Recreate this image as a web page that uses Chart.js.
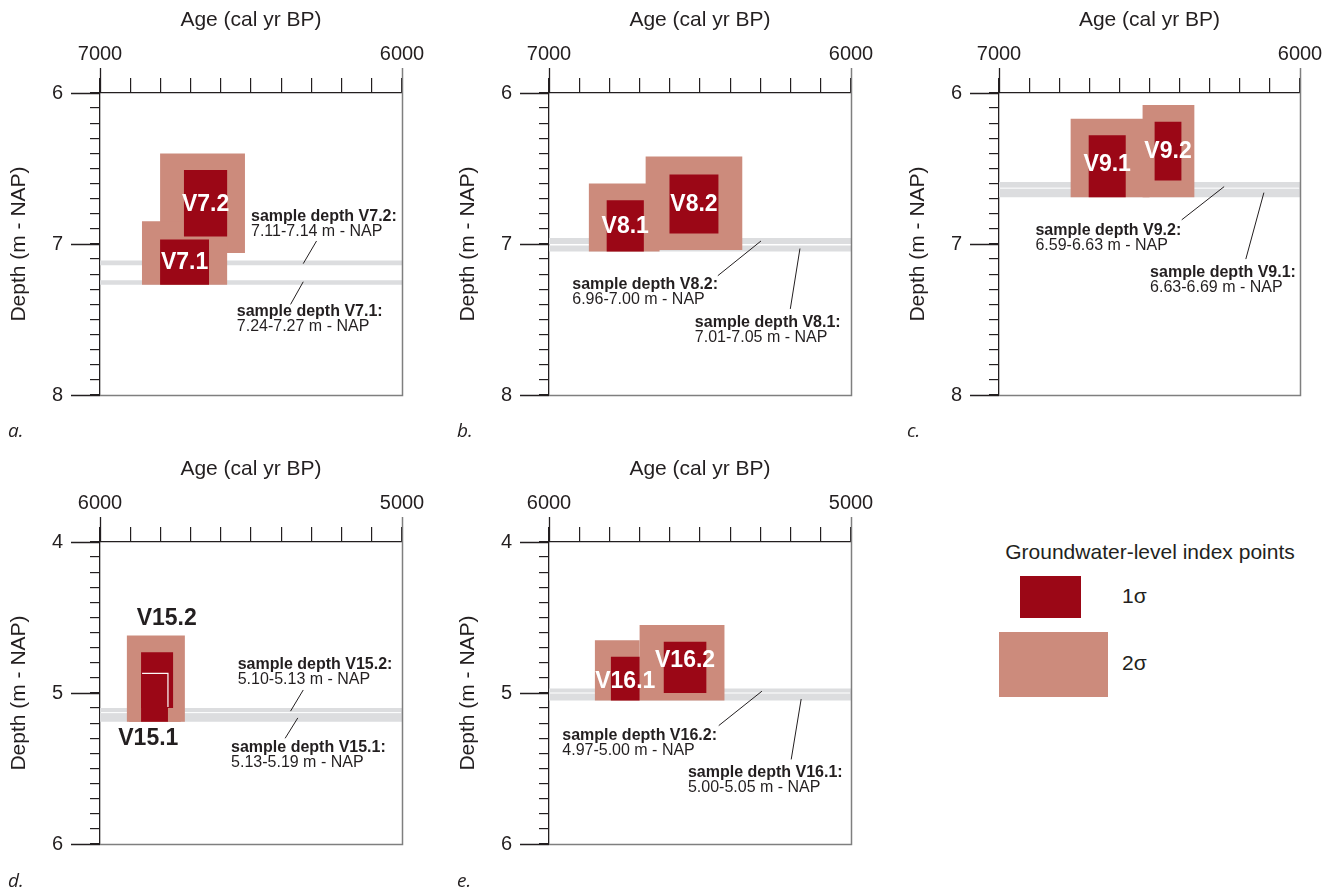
<!DOCTYPE html>
<html>
<head>
<meta charset="utf-8">
<title>Groundwater-level index points</title>
<script src="https://cdn.jsdelivr.net/npm/chart.js@4.4.1/dist/chart.umd.min.js"></script>
<style>
  html, body { margin: 0; padding: 0; background: #fff; }
  body { position: relative; width: 1338px; height: 892px; overflow: hidden;
         font-family: "Liberation Sans", Arial, sans-serif; color: #231f20; }
  .panel { position: absolute; }
  .letter { position: absolute; font-family: "Open Sans", sans-serif; font-style: italic;
            font-size: 19px; line-height: 20px; }
  #legend-title { position: absolute; left: 960px; width: 380px; top: 539px; text-align: center;
                  font-size: 21px; line-height: 26px; }
  .swatch { position: absolute; }
  .key { position: absolute; left: 1122px; font-size: 21px; line-height: 26px; }
</style>
</head>
<body>

<div class="panel" style="left:0px;top:0px"><canvas id="panel0" width="440" height="450"></canvas></div>
<div class="panel" style="left:449px;top:0px"><canvas id="panel1" width="440" height="450"></canvas></div>
<div class="panel" style="left:899px;top:0px"><canvas id="panel2" width="439" height="450"></canvas></div>
<div class="panel" style="left:0px;top:449px"><canvas id="panel3" width="440" height="450"></canvas></div>
<div class="panel" style="left:449px;top:449px"><canvas id="panel4" width="440" height="450"></canvas></div>

<div class="letter" style="left:8px;top:420px">a.</div>
<div class="letter" style="left:457px;top:420px">b.</div>
<div class="letter" style="left:907px;top:420px">c.</div>
<div class="letter" style="left:8px;top:870px">d.</div>
<div class="letter" style="left:457px;top:870px">e.</div>

<div id="legend-title">Groundwater-level index points</div>
<div class="swatch" style="left:1020px;top:576px;width:61px;height:42px;background:#9b0716"></div>
<div class="swatch" style="left:999px;top:632px;width:109px;height:65px;background:#cc8b7c"></div>
<div class="key" style="top:583px">1σ</div>
<div class="key" style="top:650px">2σ</div>

<script>
// --- 1. Data ---
const samples     = ['V7.1', 'V7.2', 'V8.1', 'V8.2', 'V9.1', 'V9.2', 'V15.1', 'V15.2', 'V16.1', 'V16.2'];
const samplePanel = [0, 0, 1, 1, 2, 2, 3, 3, 4, 4];

// calibrated age ranges (cal yr BP), older end first
const age1Sigma = [[6801, 6639], [6722, 6579], [6809, 6686], [6601, 6439], [6702, 6579],
                   [6483, 6394], [5864, 5775], [5864, 5758], [5795, 5700], [5620, 5479]];
const age2Sigma = [[6861, 6579], [6801, 6520], [6868, 6634], [6680, 6360], [6762, 6500],
                   [6523, 6351], [5904, 5732], [5911, 5719], [5848, 5700], [5700, 5419]];

// depth ranges (m - NAP), top first
const depth1Sigma = [[6.97, 7.27], [6.51, 6.95], [6.71, 7.05], [6.54, 6.93], [6.28, 6.69],
                     [6.19, 6.58], [4.87, 5.19], [4.73, 5.10], [4.76, 5.05], [4.66, 5.00]];
const depth2Sigma = [[6.85, 7.27], [6.40, 7.06], [6.60, 7.05], [6.42, 7.04], [6.17, 6.69],
                     [6.08, 6.69], [4.70, 5.19], [4.62, 5.19], [4.65, 5.05], [4.55, 5.05]];
const sampleDepth = [[7.24, 7.27], [7.11, 7.14], [7.01, 7.05], [6.96, 7.00], [6.63, 6.69],
                     [6.59, 6.63], [5.13, 5.19], [5.10, 5.13], [5.00, 5.05], [4.97, 5.00]];

// axis ranges per panel
const ageOld   = [7000, 7000, 7000, 6000, 6000];
const ageYoung = [6000, 6000, 6000, 5000, 5000];
const depthTop = [6, 6, 6, 4, 4];
const depthBot = [8, 8, 8, 6, 6];

// --- 2. Annotation layout (age, depth) ---
const noteLayout = {
  0: { at: [6547, 7.45], lead: [[6327, 7.25], [6369, 7.40]] },
  1: { at: [6500, 6.82], lead: [[6283, 6.98], [6327, 7.13]] },
  2: { at: [6517, 7.52], lead: [[6201, 7.43], [6169, 7.03]] },
  3: { at: [6923, 7.27], lead: [[6441, 7.21], [6298, 6.98]] },
  4: { at: [6498, 7.19], lead: [[6180, 7.10], [6120, 6.66]] },
  5: { at: [6879, 6.91], lead: [[6393, 6.84], [6252, 6.62]] },
  6: { at: [5566, 5.36], lead: [[5345, 5.165], [5387, 5.30]] },
  7: { at: [5544, 4.81], lead: [[5327, 4.98], [5369, 5.12]] },
  8: { at: [5540, 5.53], lead: [[5198, 5.44], [5165, 5.04]] },
  9: { at: [5956, 5.28], lead: [[5438, 5.216], [5295, 4.988]] }
};
// sample names written beside the box instead of inside it
const labelOutside = { 6: [5840, 5.30], 7: [5779, 4.51] };
// small vertical shifts (m) of names inside boxes
const labelNudge = { 4: -0.02, 8: 0.015, 9: -0.05 };

const INK = '#231f20';
const FRAME = '#7f7f7f';
const BAND = '#dcdddf';
const ONE_SIGMA = '#9b0716';
const TWO_SIGMA = '#cc8b7c';
const FONT = '"Liberation Sans", Arial, sans-serif';

Chart.defaults.font.family = FONT;
Chart.defaults.color = INK;

// rectangle as a closed line, filled with fill: 'shape'
function rectPoints(ages, depths) {
  return [
    { x: ages[0], y: depths[1] }, { x: ages[0], y: depths[0] },
    { x: ages[1], y: depths[0] }, { x: ages[1], y: depths[1] },
    { x: ages[0], y: depths[1] }
  ];
}

function shape(points, color, order) {
  return {
    data: points, fill: 'shape', backgroundColor: color,
    borderColor: 'rgba(0,0,0,0)', borderWidth: 1,
    pointRadius: 0, tension: 0, order: order
  };
}

// --- 3. Decorations drawn through the chart scales ---
function makeDecor(p, idx) {
  return {
    id: 'decor' + p,
    afterDatasetDraw(chart, args) {
      if (args.index !== 0) return; // band 0 is the last band painted
      const { ctx, chartArea: a } = chart;
      const ys = chart.scales.y;
      ctx.save();
      ctx.strokeStyle = '#fff';
      ctx.lineWidth = 1;
      idx.forEach(i => idx.forEach(j => {
        if (i !== j && Math.abs(sampleDepth[i][1] - sampleDepth[j][0]) < 1e-9) {
          const y = ys.getPixelForValue(sampleDepth[i][1]);
          ctx.beginPath();
          ctx.moveTo(a.left + 1, y);
          ctx.lineTo(a.right - 1, y);
          ctx.stroke();
        }
      }));
      ctx.restore();
    },
    afterDatasetsDraw(chart) {
      const { ctx } = chart;
      const xs = chart.scales.x, ys = chart.scales.y;
      const box = (ages, depths) => {
        const x0 = xs.getPixelForValue(ages[0]), x1 = xs.getPixelForValue(ages[1]);
        const y0 = ys.getPixelForValue(depths[0]), y1 = ys.getPixelForValue(depths[1]);
        return { l: Math.min(x0, x1), r: Math.max(x0, x1), t: Math.min(y0, y1), b: Math.max(y0, y1) };
      };
      ctx.save();

      // white seam where one 1σ box lies over another
      idx.forEach((i, k) => idx.slice(k + 1).forEach(j => {
        const top = box(age1Sigma[i], depth1Sigma[i]);
        const under = box(age1Sigma[j], depth1Sigma[j]);
        if (top.l < under.r && under.l < top.r && top.t < under.b && under.t < top.b) {
          ctx.save();
          ctx.beginPath();
          ctx.rect(under.l + 1, under.t + 1, under.r - under.l - 2, under.b - under.t - 2);
          ctx.clip();
          ctx.strokeStyle = '#fff';
          ctx.lineWidth = 1.2;
          ctx.strokeRect(top.l, top.t, top.r - top.l, top.b - top.t);
          ctx.restore();
        }
      }));

      // sample names
      ctx.font = 'bold 23px ' + FONT;
      ctx.textAlign = 'center';
      ctx.textBaseline = 'middle';
      idx.forEach(i => {
        if (labelOutside[i]) {
          ctx.fillStyle = INK;
          ctx.fillText(samples[i], xs.getPixelForValue(labelOutside[i][0]), ys.getPixelForValue(labelOutside[i][1]));
        } else {
          const mid = (depth1Sigma[i][0] + depth1Sigma[i][1]) / 2 + (labelNudge[i] || 0);
          const b = box(age1Sigma[i], depth1Sigma[i]);
          ctx.fillStyle = '#fff';
          ctx.fillText(samples[i], (b.l + b.r) / 2, ys.getPixelForValue(mid) + 1);
        }
      });

      // sample depth notes
      ctx.textAlign = 'left';
      ctx.fillStyle = INK;
      idx.forEach(i => {
        const n = noteLayout[i];
        const x = xs.getPixelForValue(n.at[0]), y = ys.getPixelForValue(n.at[1]);
        ctx.font = 'bold 16px ' + FONT;
        ctx.fillText('sample depth ' + samples[i] + ':', x, y);
        ctx.font = '16px ' + FONT;
        ctx.fillText(sampleDepth[i][0].toFixed(2) + '-' + sampleDepth[i][1].toFixed(2) + ' m - NAP', x, y + 15);
      });
      ctx.restore();
    },
    afterDraw(chart) {
      const { ctx, chartArea: a } = chart;
      const xs = chart.scales.x, ys = chart.scales.y;
      ctx.save();
      ctx.lineWidth = 1.3;
      // long ticks at the labelled values
      ctx.strokeStyle = INK;
      ctx.beginPath();
      const xl = Math.round(xs.getPixelForValue(ageOld[p])) + 0.5;
      ctx.moveTo(xl, a.top);
      ctx.lineTo(xl, a.top - 25);
      ys.ticks.forEach(t => {
        if (Math.abs(t.value - Math.round(t.value)) < 1e-6) {
          const y = Math.round(ys.getPixelForValue(t.value)) + 0.5;
          ctx.moveTo(a.left, y);
          ctx.lineTo(a.left - 29, y);
        }
      });
      ctx.stroke();
      // grey right and bottom frame
      ctx.strokeStyle = FRAME;
      ctx.lineWidth = 1.5;
      ctx.beginPath();
      const xr = Math.round(xs.getPixelForValue(ageYoung[p])) + 0.5;
      const yb = Math.round(ys.getPixelForValue(depthBot[p])) + 0.5;
      ctx.moveTo(xr, a.top - 25);
      ctx.lineTo(xr, yb);
      ctx.lineTo(a.left, yb);
      ctx.stroke();
      ctx.restore();
    }
  };
}

// --- 4. Build the five panels ---
for (let p = 0; p < 5; p++) {
  const idx = samples.map((s, i) => i).filter(i => samplePanel[i] === p);
  const datasets = [];

  idx.forEach(i => datasets.push(shape(rectPoints([ageOld[p], ageYoung[p]], sampleDepth[i]), BAND, 4)));
  idx.forEach(i => datasets.push(shape(rectPoints(age2Sigma[i], depth2Sigma[i]), TWO_SIGMA, 3)));
  idx.forEach(i => datasets.push(shape(rectPoints(age1Sigma[i], depth1Sigma[i]), ONE_SIGMA, 2)));
  idx.forEach(i => datasets.push({
    data: noteLayout[i].lead.map(pt => ({ x: pt[0], y: pt[1] })),
    fill: false, borderColor: INK, borderWidth: 1, pointRadius: 0, order: 1
  }));

  new Chart(document.getElementById('panel' + p), {
    type: 'line',
    data: { datasets: datasets },
    options: {
      responsive: false,
      animation: false,
      events: [],
      layout: { padding: { top: 0, left: 0, right: 38, bottom: 55 } },
      plugins: { legend: { display: false }, tooltip: { enabled: false } },
      scales: {
        x: {
          type: 'linear', position: 'top', reverse: true,
          min: ageYoung[p], max: ageOld[p],
          afterFit: s => { s.height = 93; },
          ticks: {
            stepSize: 100, autoSkip: false, maxRotation: 0, padding: 12,
            font: { size: 20 }, color: INK,
            callback: v => (Math.abs(v % 1000) < 1e-6 ? String(v) : '')
          },
          grid: { drawOnChartArea: false, tickLength: 15, color: INK, lineWidth: 1.2 },
          border: { display: true, color: INK, width: 1.3 },
          title: { display: true, text: 'Age (cal yr BP)', font: { size: 21 }, color: INK,
                   padding: { top: 8, bottom: 0 } }
        },
        y: {
          type: 'linear', position: 'left', reverse: true,
          min: depthTop[p], max: depthBot[p],
          afterFit: s => { s.width = 100; },
          ticks: {
            stepSize: 0.1, autoSkip: false, padding: 27,
            font: { size: 20 }, color: INK,
            callback: v => (Math.abs(v - Math.round(v)) < 1e-6 ? String(Math.round(v)) : '')
          },
          grid: { drawOnChartArea: false, tickLength: 10, color: INK, lineWidth: 1.2 },
          border: { display: true, color: INK, width: 1.3 },
          title: { display: true, text: 'Depth (m - NAP)', font: { size: 21 }, color: INK,
                   padding: { top: 7, bottom: 0 } }
        }
      }
    },
    plugins: [makeDecor(p, idx)]
  });
}
</script>
</body>
</html>
